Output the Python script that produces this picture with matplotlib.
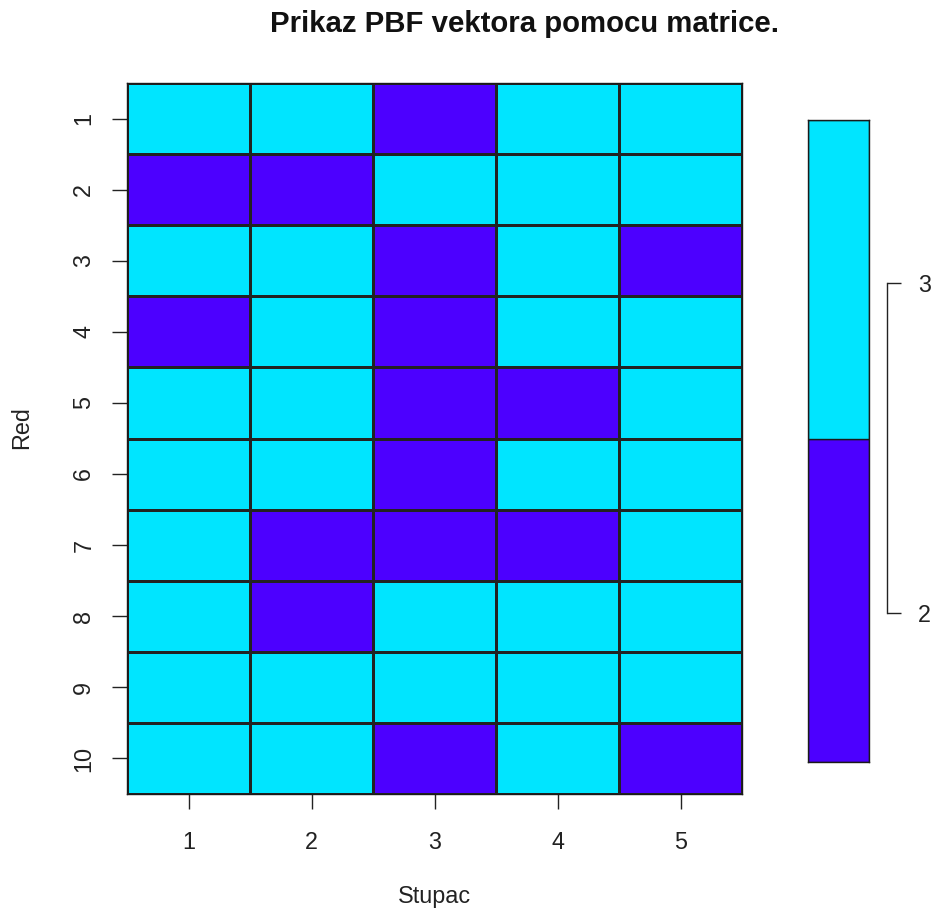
import matplotlib
matplotlib.use("Agg")
import matplotlib.pyplot as plt
import numpy as np
from matplotlib.colors import ListedColormap, BoundaryNorm
from matplotlib.patches import Rectangle

plt.rcParams['font.family'] = ['Liberation Sans', 'DejaVu Sans']

title = "Prikaz PBF vektora pomocu matrice."
xlabel = "Stupac"
ylabel = "Red"
col_labels = ["1", "2", "3", "4", "5"]
row_labels = ["1", "2", "3", "4", "5", "6", "7", "8", "9", "10"]
matrix = [
    [3, 3, 2, 3, 3],
    [2, 2, 3, 3, 3],
    [3, 3, 2, 3, 2],
    [2, 3, 2, 3, 3],
    [3, 3, 2, 2, 3],
    [3, 3, 2, 3, 3],
    [3, 2, 2, 2, 3],
    [3, 2, 3, 3, 3],
    [3, 3, 3, 3, 3],
    [3, 3, 2, 3, 2],
]
levels = [2, 3]
level_colors = ["#4C00FF", "#00E5FF"]

W, H = 935, 911
fig = plt.figure(figsize=(W / 100, H / 100), dpi=100)

def px_axes(l, t, r, b):
    return fig.add_axes([l / W, 1 - b / H, (r - l) / W, (b - t) / H])

ax = px_axes(127, 83, 742, 794)
data = np.array(matrix)
cmap = ListedColormap(level_colors)
norm = BoundaryNorm([1.5, 2.5, 3.5], cmap.N)
nr, nc = data.shape
ax.pcolormesh(np.arange(nc + 1) + 0.5, np.arange(nr + 1) + 0.5, data,
              cmap=cmap, norm=norm, edgecolors="#222222", linewidth=0.8)
ax.set_xlim(0.5, nc + 0.5)
ax.set_ylim(nr + 0.5, 0.5)
ax.set_xticks(np.arange(1, nc + 1))
ax.set_xticklabels(col_labels)
ax.set_yticks(np.arange(1, nr + 1))
ax.set_yticklabels(row_labels, rotation=90, va="center")
fs = 16.8
ax.tick_params(axis="both", length=10.8, width=1.0, color="#222222",
               labelsize=fs, labelcolor="#222222")
ax.tick_params(axis="x", pad=15.5)
ax.tick_params(axis="y", pad=12)
for s in ax.spines.values():
    s.set_linewidth(1.0)
    s.set_color("#1a1a1a")

fig.text(525 / W, 1 - 24 / H, title, ha="center", va="center",
         fontsize=21.2, fontweight="bold", color="#111111")
fig.text(434 / W, 1 - 897 / H, xlabel, ha="center", va="center",
         fontsize=fs, color="#222222")
fig.text(22 / W, 1 - 428 / H, ylabel, ha="center", va="center",
         rotation=90, fontsize=fs, color="#222222")

# legend / colour key
cax = px_axes(808, 120, 869, 762)
y_top = 3 + (283 - 120) / 330
y_bot = 2 - (762 - 613) / 330
y_mid = 3 - (439 - 283) / 330
bounds = [y_bot, y_mid, y_top]
for i, (lv, c) in enumerate(zip(levels, level_colors)):
    cax.add_patch(Rectangle((0, bounds[i]), 1, bounds[i + 1] - bounds[i],
                            facecolor=c, edgecolor="#1a1a1a", linewidth=1.0))
cax.set_xlim(0, 1)
cax.set_ylim(y_bot, y_top)
cax.set_xticks([])
cax.yaxis.tick_right()
cax.set_yticks(levels)
cax.set_yticklabels([str(v) for v in levels])
cax.tick_params(axis="y", length=10.0, width=1.0, color="#222222",
                labelsize=fs, labelcolor="#222222", pad=12.5, direction="out")
for s in cax.spines.values():
    s.set_linewidth(1.0)
    s.set_color("#1a1a1a")
cax.spines["right"].set_position(("outward", (887 - 869) * 0.72))
cax.spines["right"].set_bounds(levels[0], levels[-1])
cax.spines["right"].set_color("#222222")
# right border of the key box
cax.plot([1, 1], [y_bot, y_top], color="#1a1a1a", linewidth=1.0, clip_on=False)

fig.savefig("out.png", dpi=100)
